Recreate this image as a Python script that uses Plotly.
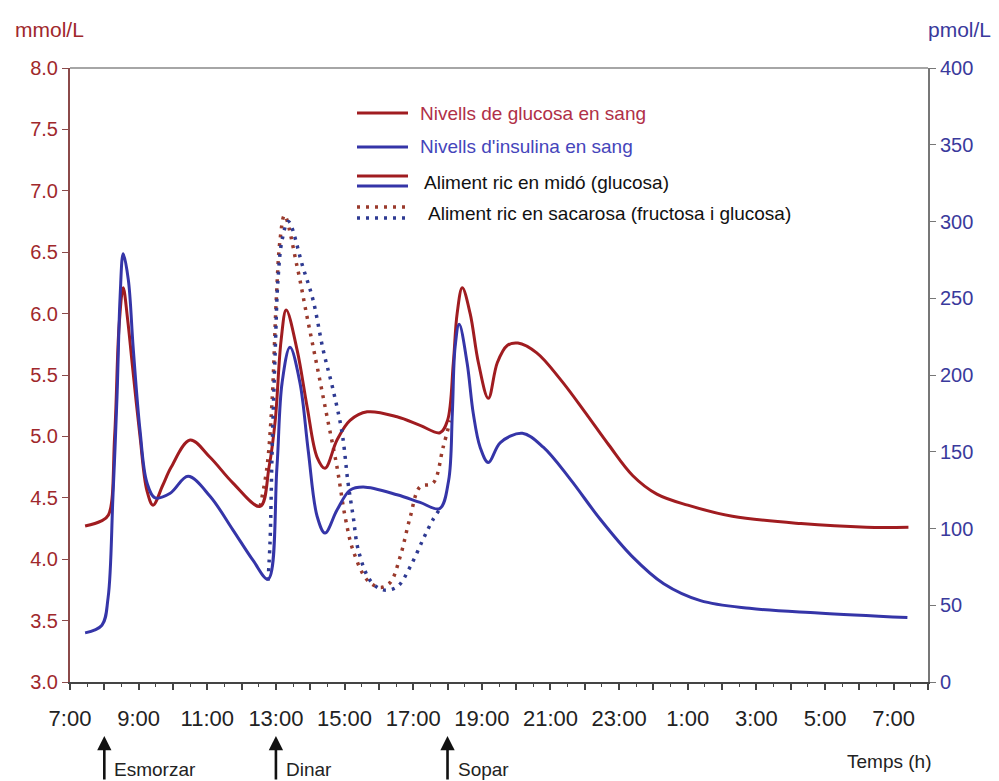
import plotly.graph_objects as go

# ---------------- data (hours since midnight, 7 -> 31 = 7:00 next day) ----------------
tick_hours = [7, 9, 11, 13, 15, 17, 19, 21, 23, 25, 27, 29, 31]
tick_labels = ["7:00", "9:00", "11:00", "13:00", "15:00", "17:00", "19:00",
               "21:00", "23:00", "1:00", "3:00", "5:00", "7:00"]

# glucose, starch-rich food (mmol/L)
glu_h = [7.44, 7.9, 8.12, 8.3, 8.43, 8.55, 8.68, 8.81, 9.04, 9.24, 9.42, 9.7, 9.95,
         10.5, 11.08, 11.75, 12.54, 12.8, 12.98, 13.15, 13.3, 13.62, 13.91, 14.2,
         14.43, 14.78, 15.16, 15.66, 16.53, 17.2, 17.78, 18.0, 18.17, 18.28, 18.43,
         18.66, 18.9, 19.19, 19.45, 19.74, 20.05, 20.6, 21.3, 22.0, 22.7, 23.4,
         24.1, 25.0, 26.3, 28.3, 30.2, 31.43]
glu_v = [4.27, 4.31, 4.36, 5.0, 5.9, 6.21, 5.95, 5.6, 5.0, 4.56, 4.44, 4.6, 4.75,
         4.97, 4.83, 4.62, 4.43, 4.75, 5.13, 5.78, 6.03, 5.7, 5.24, 4.83,
         4.74, 4.97, 5.13, 5.2, 5.16, 5.09, 5.03, 5.13, 5.6, 6.0, 6.21,
         6.0, 5.6, 5.31, 5.6, 5.74, 5.76, 5.68, 5.46, 5.2, 4.93, 4.68,
         4.53, 4.44, 4.35, 4.29, 4.26, 4.26]

# insulin, starch-rich food (pmol/L)
ins_h = [7.44, 7.93, 8.11, 8.25, 8.37, 8.46, 8.55, 8.7, 8.84, 9.04, 9.24, 9.48, 9.92,
         10.44, 11.08, 11.75, 12.34, 12.77, 13.03, 13.18, 13.41, 13.7, 13.94, 14.2,
         14.43, 14.78, 15.16, 15.54, 16.53, 17.2, 17.77, 18.03, 18.14, 18.22, 18.34,
         18.57, 18.75, 18.95, 19.19, 19.54, 20.18, 20.79, 21.58, 22.45, 23.37, 24.3,
         25.37, 26.8, 28.8, 31.4]
ins_v = [32, 37, 55, 120, 186, 251, 279, 262, 218, 164, 130, 120, 123,
         134, 121, 99, 79, 67, 140, 195, 218, 195, 151, 108,
         97, 112, 125, 127, 122, 117, 113, 131, 175, 218, 233,
         208, 175, 153, 143, 156, 162, 153, 132, 106, 82, 64,
         53, 48, 45, 42]

# glucose, sucrose-rich food (mmol/L) - dotted
glu_s_h = [12.54, 12.74, 12.89, 13.01, 13.12, 13.25, 13.62, 13.91, 14.2, 14.49, 14.78,
           15.02, 15.25, 15.66, 16.04, 16.33, 16.62, 16.91, 17.2, 17.58, 17.87, 18.08]
glu_s_v = [4.43, 4.75, 5.3, 6.11, 6.6, 6.8, 6.38, 5.97, 5.57, 5.16, 4.75,
           4.34, 4.07, 3.83, 3.77, 3.81, 4.02, 4.34, 4.59, 4.62, 4.91, 5.13]

# insulin, sucrose-rich food (pmol/L) - dotted
ins_s_h = [12.77, 12.83, 12.89, 12.98, 13.06, 13.18, 13.36, 13.79, 14.08, 14.38, 14.67,
           14.93, 15.1, 15.25, 15.4, 15.75, 16.12, 16.53, 16.91, 17.29, 17.58, 17.79]
ins_s_v = [66, 92, 151, 216, 262, 288, 300, 270, 249, 216, 190,
           162, 130, 108, 86, 66, 60, 62, 75, 93, 106, 113]

meal_hours = [8, 13, 18]
meal_labels = ["Esmorzar", "Dinar", "Sopar"]

legend_labels = ["Nivells de glucosa en sang", "Nivells d'insulina en sang",
                 "Aliment ric en midó (glucosa)",
                 "Aliment ric en sacarosa (fructosa i glucosa)"]

# ---------------- style ----------------
RED = "#a01c20"
BLUE = "#3535a8"
RED_DOT = "#9a3a2c"
BLUE_DOT = "#2e3a92"
BODY = 8                      # default page body margin
W, H = 999 - BODY, 781 - BODY
# plot area in page pixels
PL, PR, PT, PB = 70, 928, 68, 682
ML, MR, MT, MB = PL - BODY, W - (PR - BODY), PT - BODY, H - (PB - BODY)
PW, PH = PR - PL, PB - PT
FONT = "Liberation Sans, Arial, sans-serif"
SMOOTH = 1.0


def px(xp):
    return (xp - PL) / PW


def py(yp):
    return (PB - yp) / PH


fig = go.Figure()
fig.add_trace(go.Scatter(x=glu_s_h, y=glu_s_v, mode="lines",
                         line=dict(color=RED_DOT, width=3.5, dash="3px,6px", shape="spline", smoothing=SMOOTH),
                         hoverinfo="skip", showlegend=False))
fig.add_trace(go.Scatter(x=ins_s_h, y=ins_s_v, mode="lines", yaxis="y2",
                         line=dict(color=BLUE_DOT, width=3.5, dash="3px,6px", shape="spline", smoothing=SMOOTH),
                         hoverinfo="skip", showlegend=False))
fig.add_trace(go.Scatter(x=glu_h, y=glu_v, mode="lines",
                         line=dict(color=RED, width=3, shape="spline", smoothing=SMOOTH),
                         showlegend=False))
fig.add_trace(go.Scatter(x=ins_h, y=ins_v, mode="lines", yaxis="y2",
                         line=dict(color=BLUE, width=3, shape="spline", smoothing=SMOOTH),
                         showlegend=False))

all_hours = list(range(7, 33))
fig.update_layout(
    width=W, height=H,
    margin=dict(l=ML, r=MR, t=MT, b=MB),
    paper_bgcolor="white", plot_bgcolor="white",
    font=dict(family=FONT, color="#222"),
    xaxis=dict(range=[7, 32], tickvals=all_hours,
               ticktext=[tick_labels[tick_hours.index(h)] if h in tick_hours else "" for h in all_hours],
               ticks="outside", ticklen=6, tickwidth=1.5, tickcolor="#444",
               minor=dict(dtick=0.5, tick0=7, ticks="outside", ticklen=3, tickcolor="#444", tickwidth=1),
               showline=True, linecolor="#444", linewidth=2, showgrid=False, zeroline=False,
               tickfont=dict(size=22, color="#222"), ticklabelstandoff=10),
    yaxis=dict(range=[3, 8], dtick=0.5, tickformat=".1f", ticks="outside", ticklen=6,
               tickcolor="#8b4a4a", showline=True, linecolor="#8b4a4a", linewidth=2,
               showgrid=False, zeroline=False, tickfont=dict(size=20, color="#a0282c")),
    yaxis2=dict(range=[0, 400], dtick=50, overlaying="y", side="right", ticks="outside",
                ticklen=6, tickcolor="#777", showline=True, linecolor="#777", linewidth=2,
                showgrid=False, zeroline=False, tickfont=dict(size=20, color="#3a3a9c")),
)

shapes = [dict(type="line", xref="paper", yref="paper", x0=0, x1=1, y0=1, y1=1,
               line=dict(color="#888", width=1.5))]
# legend samples
lx0, lx1 = px(357), px(408)
shapes.append(dict(type="line", xref="paper", yref="paper", x0=lx0, x1=lx1, y0=py(113), y1=py(113), line=dict(color=RED, width=3)))
shapes.append(dict(type="line", xref="paper", yref="paper", x0=lx0, x1=lx1, y0=py(147), y1=py(147), line=dict(color=BLUE, width=3)))
shapes.append(dict(type="line", xref="paper", yref="paper", x0=lx0, x1=lx1, y0=py(176), y1=py(176), line=dict(color=RED, width=3)))
shapes.append(dict(type="line", xref="paper", yref="paper", x0=lx0, x1=lx1, y0=py(186), y1=py(186), line=dict(color=BLUE, width=3)))
shapes.append(dict(type="line", xref="paper", yref="paper", x0=lx0, x1=lx1, y0=py(207), y1=py(207), line=dict(color=RED_DOT, width=3.5, dash="3px,6px")))
shapes.append(dict(type="line", xref="paper", yref="paper", x0=lx0, x1=lx1, y0=py(218), y1=py(218), line=dict(color=BLUE_DOT, width=3.5, dash="3px,6px")))
fig.update_layout(shapes=shapes)

ann = []
leg_pos = [(418, 113, "#b03048"), (418, 147, "#4545bb"), (422, 182, "#111"), (426, 213, "#111")]
for (xp, yp, col), txt in zip(leg_pos, legend_labels):
    ann.append(dict(xref="paper", yref="paper", x=px(xp), y=py(yp), xanchor="left", yanchor="middle",
                    text=txt, showarrow=False, font=dict(size=19, color=col)))
ann.append(dict(xref="paper", yref="paper", x=px(49), y=py(30), xanchor="center", yanchor="middle",
                text="mmol/L", showarrow=False, font=dict(size=21, color="#a0282c")))
ann.append(dict(xref="paper", yref="paper", x=px(959), y=py(30), xanchor="center", yanchor="middle",
                text="pmol/L", showarrow=False, font=dict(size=21, color="#3a3a9c")))
ann.append(dict(xref="paper", yref="paper", x=px(889), y=py(761), xanchor="center", yanchor="middle",
                text="Temps (h)", showarrow=False, font=dict(size=19, color="#222")))
for h, lab in zip(meal_hours, meal_labels):
    ann.append(dict(xref="x", yref="paper", x=h, y=py(736), ax=0, ay=50, text="", showarrow=True,
                    arrowhead=2, arrowsize=1.1, arrowwidth=2.6, arrowcolor="#111"))
    ann.append(dict(xref="x", yref="paper", x=h, y=py(769), xanchor="left", yanchor="middle", xshift=8,
                    text=lab, showarrow=False, font=dict(size=19, color="#222")))
fig.update_layout(annotations=ann)

fig.write_html("out.html")
